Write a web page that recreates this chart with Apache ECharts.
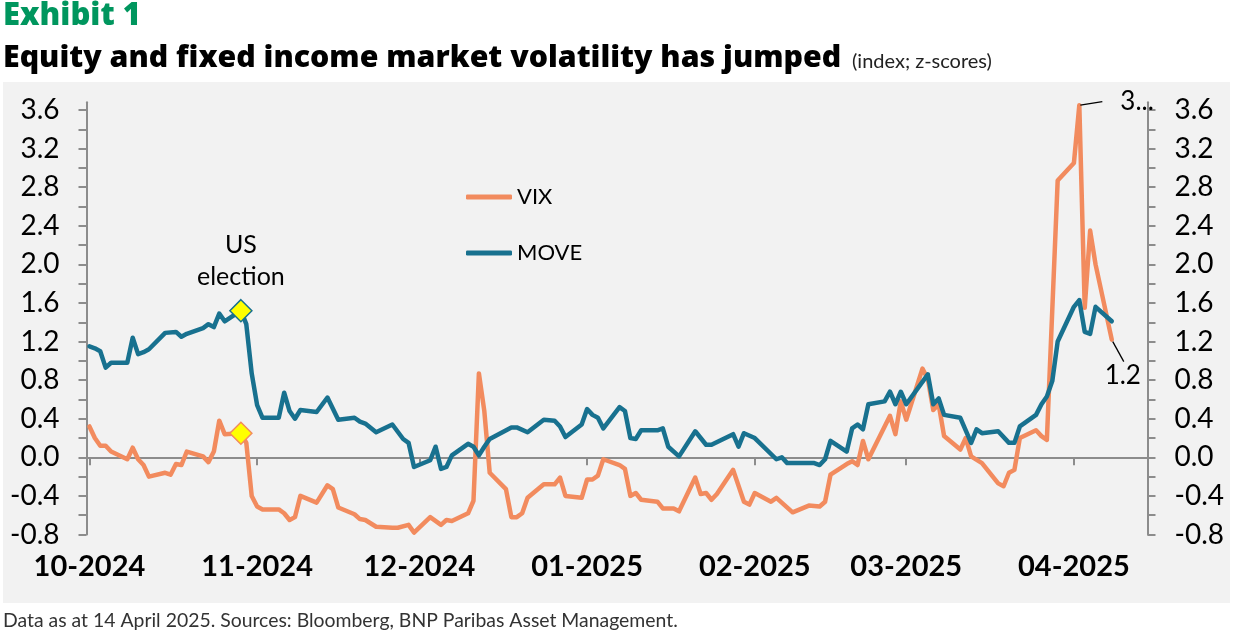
<!DOCTYPE html>
<html>
<head>
<meta charset="utf-8">
<title>Exhibit 1 - Equity and fixed income market volatility</title>
<script src="https://cdn.jsdelivr.net/npm/echarts@6/dist/echarts.min.js"></script>
<style>
    html, body { margin: 0; padding: 0; background: #ffffff; }
    #volChart { width: 1233px; height: 637px; }
</style>
</head>
<body>
<div id="volChart"></div>
<script>
// VIX z-score
var vixDates = [
    '2024-10-07', '2024-10-08', '2024-10-09', '2024-10-10', '2024-10-11', '2024-10-14', '2024-10-15', '2024-10-16', '2024-10-17', '2024-10-18',
    '2024-10-21', '2024-10-22', '2024-10-23', '2024-10-24', '2024-10-25', '2024-10-28', '2024-10-29', '2024-10-30', '2024-10-31', '2024-11-01',
    '2024-11-04', '2024-11-05', '2024-11-06', '2024-11-07', '2024-11-08', '2024-11-11', '2024-11-12', '2024-11-13', '2024-11-14', '2024-11-15',
    '2024-11-18', '2024-11-20', '2024-11-21', '2024-11-22', '2024-11-25', '2024-11-26', '2024-11-27', '2024-11-29',
    '2024-12-02', '2024-12-03', '2024-12-05', '2024-12-06', '2024-12-09', '2024-12-11', '2024-12-12', '2024-12-13',
    '2024-12-16', '2024-12-17', '2024-12-18', '2024-12-19', '2024-12-20', '2024-12-23', '2024-12-24', '2024-12-25', '2024-12-26', '2024-12-27', '2024-12-30',
    '2025-01-01', '2025-01-02', '2025-01-03', '2025-01-06', '2025-01-07', '2025-01-08', '2025-01-09', '2025-01-10',
    '2025-01-13', '2025-01-14', '2025-01-15', '2025-01-16', '2025-01-17', '2025-01-20', '2025-01-21', '2025-01-23', '2025-01-24',
    '2025-01-27', '2025-01-28', '2025-01-29', '2025-01-30', '2025-01-31', '2025-02-03', '2025-02-05', '2025-02-06', '2025-02-07',
    '2025-02-10', '2025-02-11', '2025-02-14', '2025-02-17', '2025-02-19', '2025-02-20', '2025-02-21',
    '2025-02-24', '2025-02-25', '2025-02-26', '2025-02-27', '2025-02-28', '2025-03-04', '2025-03-05', '2025-03-06', '2025-03-07',
    '2025-03-10', '2025-03-11', '2025-03-12', '2025-03-13', '2025-03-14', '2025-03-17', '2025-03-18', '2025-03-19', '2025-03-21',
    '2025-03-24', '2025-03-25', '2025-03-26', '2025-03-27', '2025-03-28', '2025-03-31', '2025-04-01', '2025-04-02', '2025-04-04',
    '2025-04-07', '2025-04-08', '2025-04-09', '2025-04-10', '2025-04-11', '2025-04-14'
];
var vixValues = [
    0.32, 0.20, 0.12, 0.12, 0.06, -0.02, 0.10, -0.02, -0.08, -0.20,
    -0.16, -0.18, -0.07, -0.08, 0.06, 0.01, -0.05, 0.06, 0.38, 0.24,
    0.25, 0.15, -0.40, -0.51, -0.54, -0.54, -0.58, -0.65, -0.62, -0.40,
    -0.47, -0.29, -0.33, -0.52, -0.59, -0.64, -0.65, -0.72,
    -0.73, -0.73, -0.70, -0.78, -0.62, -0.70, -0.65, -0.66,
    -0.58, -0.45, 0.87, 0.48, -0.16, -0.33, -0.62, -0.62, -0.58, -0.42, -0.28,
    -0.28, -0.21, -0.40, -0.42, -0.23, -0.23, -0.19, -0.02,
    -0.08, -0.12, -0.40, -0.37, -0.44, -0.46, -0.53, -0.53, -0.56,
    -0.21, -0.38, -0.37, -0.44, -0.38, -0.13, -0.46, -0.49, -0.37,
    -0.46, -0.42, -0.57, -0.50, -0.51, -0.46, -0.18,
    -0.07, -0.04, -0.08, 0.17, -0.02, 0.43, 0.24, 0.58, 0.39,
    0.92, 0.81, 0.49, 0.55, 0.22, 0.08, 0.20, 0.01, -0.06,
    -0.27, -0.30, -0.16, -0.13, 0.20, 0.28, 0.22, 0.18, 2.87,
    3.05, 3.65, 1.55, 2.35, 2.00, 1.22
];

// MOVE z-score
var moveDates = [
    '2024-10-07', '2024-10-08', '2024-10-09', '2024-10-10', '2024-10-11', '2024-10-14', '2024-10-15', '2024-10-16', '2024-10-17', '2024-10-18',
    '2024-10-21', '2024-10-23', '2024-10-24', '2024-10-25', '2024-10-28', '2024-10-29', '2024-10-30', '2024-10-31', '2024-11-01',
    '2024-11-04', '2024-11-05', '2024-11-06', '2024-11-07', '2024-11-08', '2024-11-11', '2024-11-12', '2024-11-13', '2024-11-14', '2024-11-15',
    '2024-11-18', '2024-11-20', '2024-11-22', '2024-11-25', '2024-11-26', '2024-11-27', '2024-11-29',
    '2024-12-02', '2024-12-04', '2024-12-05', '2024-12-06', '2024-12-09', '2024-12-10', '2024-12-11', '2024-12-12', '2024-12-13',
    '2024-12-16', '2024-12-17', '2024-12-18', '2024-12-19', '2024-12-20', '2024-12-24', '2024-12-25', '2024-12-27', '2024-12-30',
    '2025-01-01', '2025-01-02', '2025-01-03', '2025-01-06', '2025-01-07', '2025-01-08', '2025-01-09', '2025-01-10',
    '2025-01-13', '2025-01-14', '2025-01-15', '2025-01-16', '2025-01-17', '2025-01-20', '2025-01-21', '2025-01-22', '2025-01-24',
    '2025-01-27', '2025-01-29', '2025-01-30', '2025-02-03', '2025-02-04', '2025-02-05', '2025-02-07',
    '2025-02-11', '2025-02-12', '2025-02-13', '2025-02-18', '2025-02-19', '2025-02-20', '2025-02-21',
    '2025-02-24', '2025-02-25', '2025-02-26', '2025-02-27', '2025-02-28', '2025-03-03', '2025-03-04', '2025-03-05', '2025-03-06', '2025-03-07',
    '2025-03-11', '2025-03-12', '2025-03-13', '2025-03-14', '2025-03-17', '2025-03-19', '2025-03-20', '2025-03-21',
    '2025-03-24', '2025-03-26', '2025-03-27', '2025-03-28', '2025-03-31', '2025-04-01', '2025-04-02', '2025-04-03', '2025-04-04',
    '2025-04-07', '2025-04-08', '2025-04-09', '2025-04-10', '2025-04-11', '2025-04-14'
];
var moveValues = [
    1.15, 1.13, 1.10, 0.93, 0.98, 0.98, 1.24, 1.07, 1.09, 1.12,
    1.29, 1.30, 1.25, 1.28, 1.34, 1.38, 1.35, 1.49, 1.41,
    1.52, 1.38, 0.87, 0.54, 0.41, 0.41, 0.67, 0.48, 0.40, 0.49,
    0.47, 0.62, 0.39, 0.41, 0.37, 0.35, 0.26,
    0.34, 0.19, 0.15, -0.10, -0.03, 0.11, -0.12, -0.10, 0.02,
    0.14, 0.11, 0.02, 0.11, 0.19, 0.31, 0.31, 0.26, 0.39,
    0.38, 0.32, 0.21, 0.34, 0.50, 0.44, 0.41, 0.30,
    0.52, 0.48, 0.20, 0.19, 0.28, 0.28, 0.30, 0.11, 0.01,
    0.27, 0.13, 0.13, 0.24, 0.11, 0.25, 0.20,
    -0.02, 0.00, -0.06, -0.06, -0.08, -0.02, 0.17,
    0.06, 0.30, 0.34, 0.29, 0.55, 0.58, 0.68, 0.55, 0.68, 0.55,
    0.86, 0.55, 0.61, 0.44, 0.41, 0.15, 0.29, 0.25,
    0.27, 0.15, 0.15, 0.32, 0.44, 0.55, 0.63, 0.79, 1.20,
    1.56, 1.63, 1.30, 1.28, 1.56, 1.41
];

// point marked with the diamonds ("US election")
var markerDate = '2024-11-04';

// x axis: one tick per month, y axis: labels every 0.4, ticks every 0.2
var monthTicks = ['2024-10-07', '2024-11-07', '2024-12-07', '2025-01-07', '2025-02-07', '2025-03-07', '2025-04-07'];
var yLabels = [-0.8, -0.4, 0, 0.4, 0.8, 1.2, 1.6, 2.0, 2.4, 2.8, 3.2, 3.6];
var yTicks = [-0.8, -0.6, -0.4, -0.2, 0, 0.2, 0.4, 0.6, 0.8, 1.0, 1.2, 1.4, 1.6, 1.8, 2.0, 2.2, 2.4, 2.6, 2.8, 3.0, 3.2, 3.4, 3.6];

(function () {
    var vixColor = '#f28b5e';
    var moveColor = '#18718f';
    var axisColor = '#8c8c8c';
    var font = 'Lato, "Open Sans", sans-serif';
    var headFont = '"Open Sans", Lato, sans-serif';

    // 'YYYY-MM-DD' -> local timestamp
    var toTime = function (s) {
        var p = s.split('-');
        return new Date(+p[0], +p[1] - 1, +p[2]).getTime();
    };

    var toItems = function (dates, values) {
        var items = [];
        for (var i = 0; i < dates.length; i++) {
            items.push({ value: [toTime(dates[i]), values[i]] });
        }
        return items;
    };

    var diamond = function (item, color) {
        item.symbol = 'diamond';
        item.symbolSize = 22;
        item.itemStyle = { color: '#ffff00', borderColor: color, borderWidth: 1.5 };
        return item;
    };

    var callout = function (item, text, label) {
        item.symbol = 'circle';
        item.symbolSize = 2;
        item.label = Object.assign({
            show: true,
            formatter: text,
            fontFamily: font,
            fontSize: 26,
            color: '#000'
        }, label);
        return item;
    };

    var vixData = toItems(vixDates, vixValues);
    var moveData = toItems(moveDates, moveValues);

    diamond(vixData[vixDates.indexOf(markerDate)], vixColor);
    var moveMarker = diamond(moveData[moveDates.indexOf(markerDate)], moveColor);
    moveMarker.label = {
        show: true,
        position: 'top',
        distance: 6,
        formatter: 'US\nelection',
        fontFamily: font,
        fontSize: 25,
        lineHeight: 32,
        color: '#000'
    };

    var peakIdx = vixValues.indexOf(Math.max.apply(null, vixValues));
    var lastIdx = vixValues.length - 1;
    // the peak label is cut short in the original exhibit
    callout(vixData[peakIdx], '3...', { position: 'right', distance: 40, offset: [0, -4] });
    callout(vixData[lastIdx], vixValues[lastIdx].toFixed(1), { position: 'bottom', distance: 22, offset: [11, 0] });

    var tickTimes = monthTicks.map(toTime);
    var xMin = new Date(2024, 9, 6, 11).getTime();
    var xMax = new Date(2025, 3, 20, 14, 30).getTime();

    var monthLabel = function (val) {
        var d = new Date(val);
        var m = d.getMonth() + 1;
        return (m < 10 ? '0' + m : '' + m) + '-' + d.getFullYear();
    };

    var yAxisFor = function (side) {
        return {
            type: 'value',
            position: side,
            min: -0.8,
            max: 3.68,
            axisLine: { show: true, onZero: false, lineStyle: { color: axisColor, width: 2 } },
            axisTick: { show: true, customValues: yTicks, length: 8, lineStyle: { color: axisColor, width: 2 } },
            axisLabel: {
                customValues: yLabels,
                margin: 27,
                fontFamily: font,
                fontSize: 28,
                color: '#000',
                formatter: function (v) { return v.toFixed(1); }
            },
            splitLine: { show: false }
        };
    };

    var panel = {
        id: 'panel',
        type: 'rect',
        left: 3,
        top: 82,
        z: -10,
        silent: true,
        shape: { width: 1227, height: 521 },
        style: { fill: '#f2f2f2' }
    };

    var chartInstance = echarts.init(document.getElementById('volChart'));
    chartInstance.setOption({
        animation: false,
        backgroundColor: '#ffffff',
        graphic: [panel],
        title: [
            {
                text: 'Exhibit 1', left: 3, top: 1, padding: 0,
                textStyle: { fontFamily: headFont, fontWeight: 800, fontSize: 31, color: '#00965e' }
            },
            {
                text: 'Equity and fixed income market volatility has jumped', left: 3, top: 43, padding: 0,
                textStyle: { fontFamily: headFont, fontWeight: 800, fontSize: 30.3, color: '#000' }
            },
            {
                text: '(index; z-scores)', left: 852, top: 52, padding: 0,
                textStyle: { fontFamily: font, fontWeight: 'normal', fontSize: 20, color: '#222' }
            },
            {
                text: 'Data as at 14 April 2025. Sources: Bloomberg, BNP Paribas Asset Management.', left: 3, top: 611, padding: 0,
                textStyle: { fontFamily: font, fontWeight: 'normal', fontSize: 19.4, color: '#333' }
            }
        ],
        legend: {
            data: ['VIX', 'MOVE'],
            orient: 'vertical',
            left: 466,
            top: 186,
            padding: 0,
            icon: 'roundRect',
            itemWidth: 46,
            itemHeight: 5,
            itemGap: 34,
            selectedMode: false,
            textStyle: { fontFamily: font, fontSize: 22, color: '#000' }
        },
        grid: {
            left: 86.5,
            right: 85.5,
            top: 102.3,
            bottom: 102.5,
            containLabel: false,
            outerBoundsMode: 'none'
        },
        xAxis: [
            {
                type: 'value',
                min: xMin,
                max: xMax,
                position: 'bottom',
                axisLine: { show: true, onZero: true, lineStyle: { color: axisColor, width: 2 } },
                axisTick: { show: true, customValues: tickTimes, length: 8, lineStyle: { color: axisColor, width: 2 } },
                axisLabel: { show: false },
                splitLine: { show: false }
            },
            {
                type: 'value',
                min: xMin,
                max: xMax,
                position: 'bottom',
                axisLine: { show: false, onZero: false },
                axisTick: { show: false },
                axisLabel: {
                    customValues: tickTimes,
                    margin: 18,
                    fontFamily: font,
                    fontWeight: 'bold',
                    fontSize: 29,
                    color: '#000',
                    formatter: monthLabel
                },
                splitLine: { show: false }
            }
        ],
        yAxis: [yAxisFor('left'), yAxisFor('right')],
        series: [
            {
                name: 'VIX',
                type: 'line',
                xAxisIndex: 0,
                yAxisIndex: 0,
                data: vixData,
                symbol: 'none',
                showSymbol: true,
                color: vixColor,
                lineStyle: { color: vixColor, width: 4.5, cap: 'round', join: 'round' },
                emphasis: { disabled: true }
            },
            {
                name: 'MOVE',
                type: 'line',
                xAxisIndex: 0,
                yAxisIndex: 0,
                data: moveData,
                symbol: 'none',
                showSymbol: true,
                color: moveColor,
                lineStyle: { color: moveColor, width: 4.5, cap: 'round', join: 'round' },
                emphasis: { disabled: true }
            }
        ]
    });

    // leader lines of the two data labels, anchored on the points through the axes
    var leader = function (id, from, to) {
        return {
            id: id,
            type: 'line',
            silent: true,
            z: 100,
            shape: { x1: from[0], y1: from[1], x2: to[0], y2: to[1] },
            style: { stroke: '#000', lineWidth: 1.3 }
        };
    };
    var peakPx = chartInstance.convertToPixel({ xAxisIndex: 0, yAxisIndex: 0 }, vixData[peakIdx].value);
    var lastPx = chartInstance.convertToPixel({ xAxisIndex: 0, yAxisIndex: 0 }, vixData[lastIdx].value);
    chartInstance.setOption({
        graphic: [
            panel,
            leader('peakLeader', [peakPx[0] + 1, peakPx[1]], [peakPx[0] + 23, peakPx[1] - 3.5]),
            leader('lastLeader', [lastPx[0] + 1, lastPx[1] + 2], [lastPx[0] + 12, lastPx[1] + 22])
        ]
    });
})();
</script>
</body>
</html>
